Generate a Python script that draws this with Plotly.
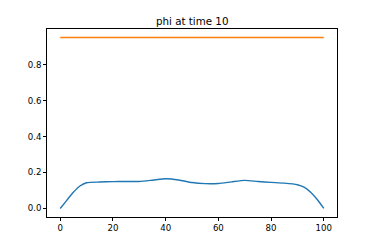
import plotly.graph_objects as go

x_blue = [0, 2.5, 5, 7.5, 10, 15, 20, 25, 30, 35, 40, 45, 50, 55, 60, 65, 70, 75, 80, 85, 90, 92.5, 95, 97.5, 100]
y_blue = [0.0, 0.045, 0.09, 0.125, 0.143, 0.147, 0.149, 0.150, 0.150, 0.157, 0.165, 0.158, 0.144, 0.138, 0.139,
          0.148, 0.156, 0.150, 0.145, 0.141, 0.132, 0.118, 0.09, 0.05, 0.0]
x_orange = [0, 100]
y_orange = [0.95, 0.95]
x_ticks = [0, 20, 40, 60, 80, 100]
y_ticks = [0.0, 0.2, 0.4, 0.6, 0.8]
title = "phi at time 10"

fig = go.Figure()
fig.add_trace(go.Scatter(x=x_blue, y=y_blue, mode="lines", line=dict(color="#1f77b4", width=1.4, shape="spline", smoothing=0.6)))
fig.add_trace(go.Scatter(x=x_orange, y=y_orange, mode="lines", line=dict(color="#ff7f0e", width=1.4)))

font = dict(family="DejaVu Sans", size=8.6, color="black")
axis_common = dict(showline=True, linecolor="black", linewidth=0.8, mirror=True, ticks="outside",
                   ticklen=3, tickwidth=0.8, tickcolor="black", showgrid=False, zeroline=False, tickfont=font)
fig.update_layout(
    width=366, height=241, autosize=False,
    margin=dict(l=39, r=37, t=21, b=32),
    paper_bgcolor="white", plot_bgcolor="white",
    showlegend=False,
    xaxis=dict(range=[-5, 105], tickvals=x_ticks, ticktext=[str(v) for v in x_ticks], **axis_common),
    yaxis=dict(range=[-0.0475, 0.9975], tickvals=y_ticks, ticktext=[f"{v:.1f}" for v in y_ticks], **axis_common),
    annotations=[dict(text=title, x=0.5, y=1, xref="paper", yref="paper", xanchor="center", yanchor="middle",
                      yshift=8, showarrow=False, font=dict(family="DejaVu Sans", size=10.3, color="black"))],
)
fig.write_html("out.html")
